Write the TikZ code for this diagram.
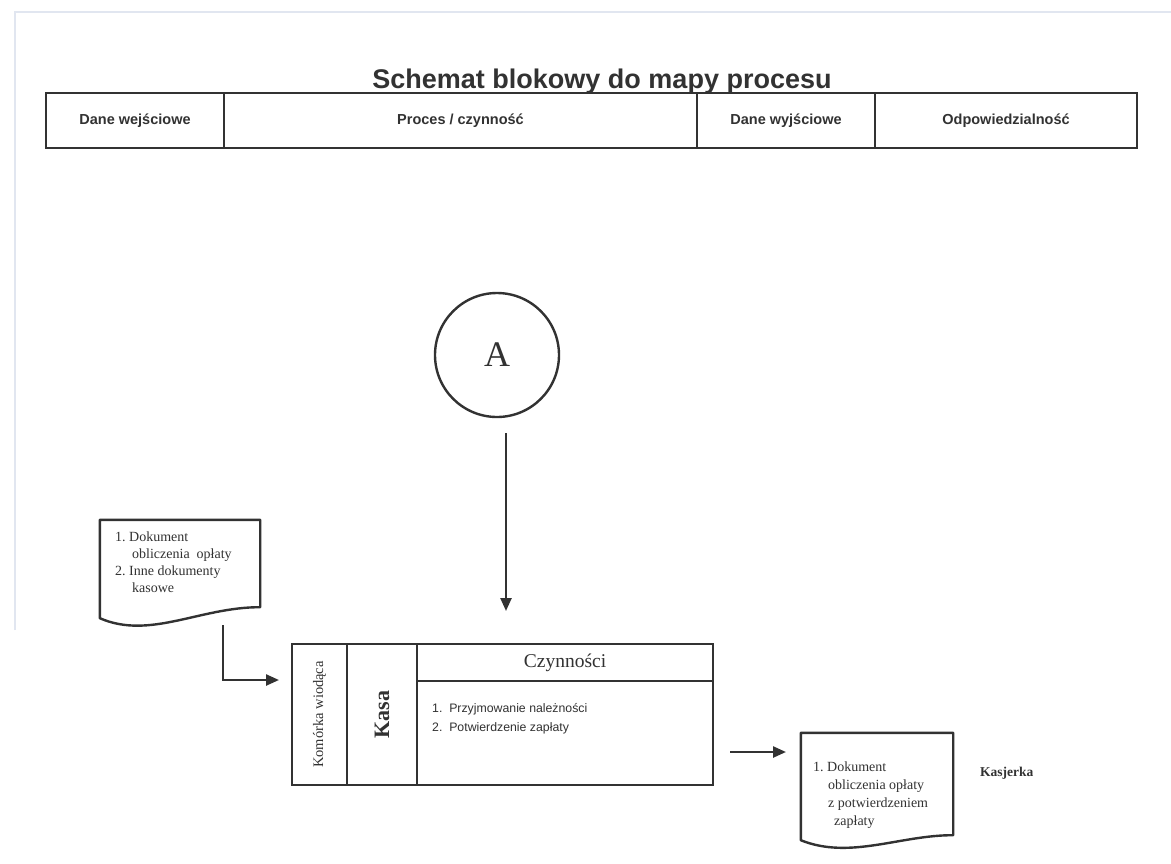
\documentclass[tikz,border=0pt]{standalone}
\usepackage{fontspec}
\setmainfont{Liberation Serif}
\setsansfont{Liberation Sans}
\usetikzlibrary{arrows.meta,calc}
\definecolor{ink}{RGB}{50,50,50}
\definecolor{scanedge}{RGB}{225,230,240}
\begin{document}
\begin{tikzpicture}[x=1pt,y=-1pt,
  ink line/.style={draw=ink,line width=2.4pt},
  hdrcell/.style={ink line,rectangle,minimum height=55pt,inner sep=0pt,
    font=\sffamily\bfseries\fontsize{14.5}{16}\selectfont,text=ink},
  boxcell/.style={ink line,rectangle,inner sep=0pt,text=ink},
  doctext/.style={align=left,inner sep=0pt,anchor=north west,text=ink,
    font=\fontsize{14}{17}\selectfont},
  flowarrow/.style={draw=ink,line width=2.4pt,-{Triangle[length=13pt,width=11pt]}}
]
\useasboundingbox (0,0) rectangle (1171,863);
\fill[white] (0,0) rectangle (1171,863);
% faint scan edge
\draw[scanedge,line width=1.5pt] (15,630) -- (15,12) -- (1171,12);

% title
\node[anchor=base,font=\sffamily\bfseries\fontsize{27}{30}\selectfont,text=ink,inner sep=0pt]
  (title) at (602,88) {Schemat blokowy do mapy procesu};

% header row
\node[hdrcell,minimum width=178pt] (h1) at (135,120.5) {Dane wejściowe};
\node[hdrcell,minimum width=473pt] (h2) at (460.5,120.5) {Proces / czynność};
\node[hdrcell,minimum width=178pt] (h3) at (786,120.5) {Dane wyjściowe};
\node[hdrcell,minimum width=262pt] (h4) at (1006,120.5) {Odpowiedzialność};

% connector A
\node[ink line,circle,minimum size=124pt,inner sep=0pt,text=ink,
  font=\fontsize{36}{38}\selectfont] (A) at (497,355) {A};

% document 1
\node[inner sep=0pt,minimum width=160pt,minimum height=98pt] (doc1) at (180,569) {};
\draw[ink line,line join=round] (doc1.north west) -- (doc1.north east) -- ([yshift=11pt]doc1.south east)
  .. controls (200,607) and (150,640) .. (doc1.south west) -- cycle;
\node[doctext] (doc1txt) at (115,532) {1.~Dokument\\\hspace*{17pt}obliczenia~~opłaty\\2.~Inne dokumenty\\\hspace*{17pt}kasowe};

% process block
\node[boxcell,minimum width=55pt,minimum height=141pt] (kom) at (319.5,714.5) {};
\node[rotate=90,text=ink,font=\fontsize{14.5}{16}\selectfont] (komtxt) at (kom.center) {Komórka wiodąca};
\node[boxcell,minimum width=70pt,minimum height=141pt] (kasa) at (382,714.5) {};
\node[rotate=90,text=ink,font=\bfseries\fontsize{22}{24}\selectfont] (kasatxt) at (kasa.center) {Kasa};
\node[boxcell,minimum width=296pt,minimum height=37pt,font=\fontsize{19.5}{22}\selectfont] (czyn) at (565,662.5) {Czynności};
\node[boxcell,minimum width=296pt,minimum height=104pt] (body) at (565,733) {};
\node[doctext,font=\sffamily\fontsize{12.3}{19}\selectfont] (bodytxt) at (432,703)
  {1.~~Przyjmowanie należności\\2.~~Potwierdzenie zapłaty};

% document 2
\node[inner sep=0pt,minimum width=152pt,minimum height=107pt] (doc2) at (877,786.5) {};
\draw[ink line,line join=round] (doc2.north west) -- (doc2.north east) -- ([yshift=5pt]doc2.south east)
  .. controls (900,835) and (850,860) .. (doc2.south west) -- cycle;
\node[doctext,font=\fontsize{14}{18}\selectfont] (doc2txt) at (813,762) {1.~Dokument\\\hspace*{15pt}obliczenia opłaty\\\hspace*{15pt}z potwierdzeniem\\\hspace*{21pt}zapłaty};

% responsibility
\node[anchor=base west,text=ink,inner sep=0pt,font=\bfseries\fontsize{13.5}{15}\selectfont] (kasjerka) at (980,776) {Kasjerka};

% connector end points
\coordinate (a1s) at (506,433);
\coordinate (a1e) at (506,611);
\coordinate (d1s) at (223,625);
\coordinate (d1k) at (223,680);
\coordinate (d1e) at (279,680);
\coordinate (p2s) at (730,752);
\coordinate (p2e) at (786,752);

\draw[flowarrow] (a1s) -- (a1e);
\draw[flowarrow] (d1s) -- (d1k) -- (d1e);
\draw[flowarrow] (p2s) -- (p2e);
\end{tikzpicture}
\end{document}
